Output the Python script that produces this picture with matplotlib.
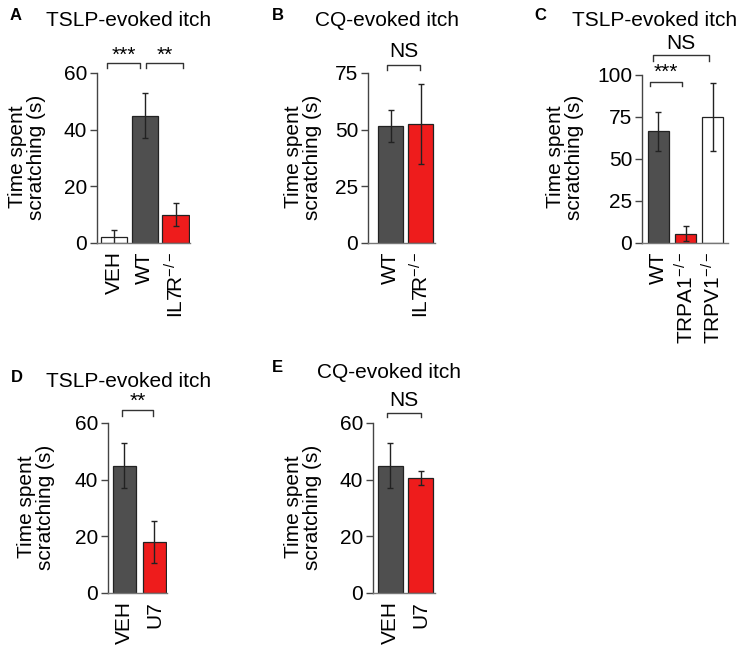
import matplotlib
matplotlib.use("Agg")
import matplotlib.pyplot as plt

plt.rcParams['font.family'] = ['Liberation Sans', 'DejaVu Sans']
plt.rcParams['mathtext.fontset'] = 'custom'
plt.rcParams['mathtext.rm'] = 'Liberation Sans'
plt.rcParams['mathtext.it'] = 'Liberation Sans:italic'

DARK = '#4f4f4f'
RED = '#ee1c1c'
WHITE = '#ffffff'
SUP = r'$^{\mathregular{-/-}}$'

# ---- data ----
a_labels = ['VEH', 'WT', 'IL7R' + SUP]
a_values = [2, 45, 10]
a_errors = [2.5, 8, 4]
a_colors = [WHITE, DARK, RED]

b_labels = ['WT', 'IL7R' + SUP]
b_values = [51.5, 52.5]
b_errors = [7, 17.5]
b_colors = [DARK, RED]

c_labels = ['WT', 'TRPA1' + SUP, 'TRPV1' + SUP]
c_values = [66.5, 5.5, 75]
c_errors = [11.5, 4.5, 20]
c_colors = [DARK, RED, WHITE]

d_labels = ['VEH', 'U7']
d_values = [45, 18]
d_errors = [8, 7.5]
d_colors = [DARK, RED]

e_labels = ['VEH', 'U7']
e_values = [45, 40.5]
e_errors = [8, 2.5]
e_colors = [DARK, RED]

W, H = 750, 648
fig = plt.figure(figsize=(7.5, 6.48), dpi=100)

FS = 15


def px_axes(x0, x1, ytop, ybot):
    return fig.add_axes([x0 / W, 1 - ybot / H, (x1 - x0) / W, (ybot - ytop) / H])


def panel(rect, labels, values, errors, colors, ymax, yticks, xlim, width):
    ax = px_axes(*rect)
    x = list(range(len(values)))
    ax.bar(x, values, width=width, color=colors, edgecolor='#222222', linewidth=0.9,
           yerr=errors, error_kw=dict(ecolor='#222222', elinewidth=1.0, capsize=2.5, capthick=1.0),
           zorder=2)
    ax.set_ylim(0, ymax)
    ax.set_xlim(*xlim)
    ax.set_yticks(yticks)
    ax.set_yticklabels([str(t) for t in yticks], fontsize=FS)
    ax.set_xticks(x)
    ax.set_xticklabels(labels, rotation=90, fontsize=FS)
    ax.tick_params(axis='x', length=0, pad=6)
    ax.tick_params(axis='y', length=5, width=1, color='#444444', pad=2)
    for s in ['top', 'right']:
        ax.spines[s].set_visible(False)
    ax.spines['left'].set_color('#444444')
    ax.spines['bottom'].set_color('#777777')
    ax.spines['left'].set_linewidth(1.0)
    ax.spines['bottom'].set_linewidth(1.0)
    ax.patch.set_alpha(0)
    return ax


def bracket(ax, x0, x1, y, drop, text, ty, fs=FS):
    ax.plot([x0, x0, x1, x1], [y - drop, y, y, y - drop], color='#333333', lw=1.0,
            clip_on=False)
    ax.text((x0 + x1) / 2, ty, text, ha='center', va='center', fontsize=fs, clip_on=False)


def ylabel(xc, yc):
    fig.text(xc / W, 1 - yc / H, 'Time spent\nscratching (s)', rotation=90, ha='center',
             va='center', fontsize=FS, linespacing=0.95, multialignment='center')


def title(letter, lx, ly, t, tx, ty):
    fig.text(lx / W, 1 - ly / H, letter, fontsize=12, fontweight='bold', ha='left', va='center')
    fig.text(tx / W, 1 - ty / H, t, fontsize=FS, ha='left', va='center')


# Panel A
axA = panel((97, 190, 73, 243), a_labels, a_values, a_errors, a_colors, 60, [0, 20, 40, 60],
            (-0.55, 2.47), 0.85)
bracket(axA, -0.23, 0.85, 63.5, 1.8, '***', 66.3)
bracket(axA, 1.03, 2.24, 63.5, 1.8, '**', 66.3)
ylabel(27, 157)
title('A', 10, 15, 'TSLP-evoked itch', 46, 20)

# Panel B
axB = panel((368, 435, 73, 243), b_labels, b_values, b_errors, b_colors, 75, [0, 25, 50, 75],
            (-0.75, 1.48), 0.83)
bracket(axB, -0.12, 0.98, 78.5, 2.2, 'NS', 84.5)
ylabel(303, 157)
title('B', 272, 15, 'CQ-evoked itch', 315, 20)

# Panel C
axC = panel((642, 728, 75, 243), c_labels, c_values, c_errors, c_colors, 100, [0, 25, 50, 75, 100],
            (-0.61, 2.57), 0.78)
bracket(axC, -0.31, 0.87, 95.8, 2.3, '***', 101.5)
bracket(axC, -0.2, 1.87, 111.9, 3.6, 'NS', 119.0)
ylabel(565, 157)
title('C', 534, 15, 'TSLP-evoked itch', 572, 20)

# Panel D
axD = panel((108, 167, 423, 593), d_labels, d_values, d_errors, d_colors, 60, [0, 20, 40, 60],
            (-0.55, 1.42), 0.77)
bracket(axD, -0.08, 0.95, 64.6, 2.0, '**', 67.5)
ylabel(36, 507)
title('D', 11, 377, 'TSLP-evoked itch', 46, 382)

# Panel E
axE = panel((373, 435, 423, 593), e_labels, e_values, e_errors, e_colors, 60, [0, 20, 40, 60],
            (-0.58, 1.48), 0.83)
bracket(axE, -0.1, 1.0, 63.5, 1.4, 'NS', 67.8)
ylabel(303, 507)
title('E', 272, 367, 'CQ-evoked itch', 317, 373)

fig.savefig('out.png', dpi=100)
